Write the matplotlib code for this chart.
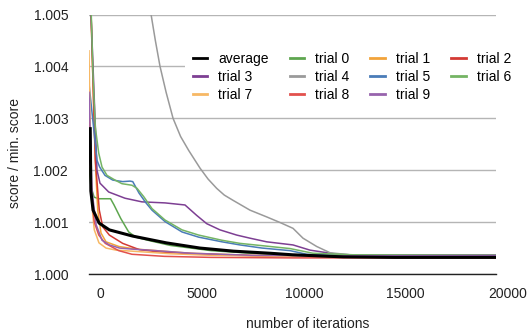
import matplotlib
matplotlib.use("Agg")
import matplotlib.pyplot as plt
import matplotlib.transforms as mtransforms

plt.rcParams['font.family'] = ['Liberation Sans', 'DejaVu Sans']

# iterations / score values
avg_x = [60, 90, 200, 500, 1000, 2150, 3800, 5450, 7100, 8900, 10000, 12500, 15000, 20000]
avg_y = [1.0028, 1.0016, 1.00123, 1.00098, 1.00085, 1.00073, 1.0006, 1.0005, 1.00044, 1.0004, 1.00037, 1.00033, 1.00032, 1.00032]

t0_x = [0, 100, 250, 500, 1060, 1230, 1560, 1950, 2300, 3000, 4000, 6000, 8000, 10000, 12000, 20000]
t0_y = [1.00204, 1.00168, 1.00148, 1.00145, 1.00145, 1.00133, 1.00107, 1.00081, 1.00071, 1.00064, 1.00055, 1.00045, 1.0004, 1.00036, 1.00034, 1.00034]

t1_x = [0, 250, 330, 430, 590, 835, 1470, 2300, 3300, 5000, 8000, 12000, 20000]
t1_y = [1.0065, 1.0029, 1.0020, 1.00123, 1.00079, 1.00062, 1.00053, 1.00048, 1.00045, 1.0004, 1.00036, 1.00034, 1.00033]

t2_x = [0, 100, 310, 450, 506, 673, 1000, 1656, 2470, 3300, 4570, 6535, 9000, 12000, 20000]
t2_y = [1.0075, 1.005, 1.0022, 1.0015, 1.00123, 1.00091, 1.00075, 1.00059, 1.00047, 1.00043, 1.0004, 1.00037, 1.00034, 1.00033, 1.00033]

t3_x = [0, 100, 393, 540, 968, 1770, 2600, 3735, 4717, 5290, 5784, 6437, 7258, 7912, 8732, 10025, 10860, 12186, 12826, 20000]
t3_y = [1.0075, 1.005, 1.0020, 1.00175, 1.00158, 1.00146, 1.00139, 1.00137, 1.00133, 1.00113, 1.00097, 1.00085, 1.00075, 1.00069, 1.00062, 1.00056, 1.00046, 1.00038, 1.00037, 1.00037]

t4_x = [0, 1000, 2000, 2500, 2800, 3050, 3260, 3490, 3790, 4130, 4500, 4900, 5455, 5850, 6275, 6650, 7076, 7912, 8732, 9400, 10025, 10516, 11189, 11843, 12826, 20000]
t4_y = [1.02, 1.014, 1.009, 1.0068, 1.0059, 1.005, 1.0045, 1.004, 1.0035, 1.003, 1.00265, 1.00238, 1.00204, 1.00183, 1.00165, 1.00152, 1.00142, 1.00123, 1.0011, 1.00099, 1.00088, 1.00069, 1.00053, 1.00041, 1.00037, 1.00036]

t5_x = [0, 393, 525, 786, 1165, 1656, 2015, 2150, 2457, 2800, 3096, 3735, 4570, 5390, 6535, 7420, 8500, 9880, 10700, 12000, 20000]
t5_y = [1.00367, 1.00219, 1.00206, 1.0019, 1.00181, 1.00178, 1.00179, 1.00178, 1.00156, 1.00137, 1.00123, 1.00101, 1.00081, 1.00071, 1.00062, 1.00056, 1.0005, 1.00045, 1.00038, 1.00036, 1.00035]

t6_x = [0, 200, 310, 477, 640, 885, 1277, 1620, 2113, 2360, 2690, 3096, 3735, 4570, 5390, 6535, 7420, 9880, 11000, 13000, 20000]
t6_y = [1.0065, 1.0038, 1.00283, 1.00233, 1.00206, 1.0019, 1.00181, 1.00174, 1.00171, 1.00165, 1.00149, 1.00126, 1.00104, 1.00085, 1.00075, 1.00065, 1.00059, 1.00049, 1.0004, 1.00037, 1.00037]

t7_x = [0, 100, 180, 260, 490, 835, 1330, 2500, 4000, 6000, 10000, 14000, 20000]
t7_y = [1.0043, 1.0018, 1.00117, 1.00085, 1.0006, 1.0005, 1.00046, 1.00043, 1.00039, 1.00036, 1.00034, 1.00033, 1.00033]

t8_x = [0, 100, 260, 480, 800, 1460, 2110, 3700, 6000, 10000, 15000, 20000]
t8_y = [1.0030, 1.0016, 1.0010, 1.00075, 1.00059, 1.00045, 1.00038, 1.00034, 1.00032, 1.00031, 1.00031, 1.00031]

t9_x = [0, 150, 350, 640, 1000, 1500, 2100, 2950, 5000, 8000, 12000, 20000]
t9_y = [1.0035, 1.0016, 1.00095, 1.00065, 1.00056, 1.0005, 1.00048, 1.00046, 1.0004, 1.00036, 1.00035, 1.00036]

trials = [
    ('trial 0', t0_x, t0_y, '#5ea64f'),
    ('trial 1', t1_x, t1_y, '#f2a33a'),
    ('trial 2', t2_x, t2_y, '#d43a34'),
    ('trial 3', t3_x, t3_y, '#7d3f93'),
    ('trial 4', t4_x, t4_y, '#9a9a9a'),
    ('trial 5', t5_x, t5_y, '#4a7cb8'),
    ('trial 6', t6_x, t6_y, '#74b464'),
    ('trial 7', t7_x, t7_y, '#f7b865'),
    ('trial 8', t8_x, t8_y, '#e2514d'),
    ('trial 9', t9_x, t9_y, '#9763ad'),
]

fig = plt.figure(figsize=(5.31, 3.32), dpi=100)
ax = fig.add_axes([89 / 531, 1 - 274 / 332, 407 / 531, 259.5 / 332])

handles = {}
for name, xs, ys, col in trials:
    handles[name], = ax.plot(xs, ys, color=col, lw=1.1, label=name)
handles['average'], = ax.plot(avg_x, avg_y, color='black', lw=2.2, label='average')

ax.set_xlim(0, 20000)
ax.set_ylim(1.0, 1.005)
ax.set_xticks([0, 5000, 10000, 15000, 20000])
ax.set_yticks([1.000, 1.001, 1.002, 1.003, 1.004, 1.005])
ax.set_yticklabels(['%.3f' % v for v in ax.get_yticks()])

ax.grid(axis='y', color='#b5b5b5', lw=1.0)
ax.set_axisbelow(True)
for s in ['top', 'right', 'left']:
    ax.spines[s].set_visible(False)
ax.spines['bottom'].set_color('#222222')
ax.spines['bottom'].set_linewidth(1.0)
ax.spines['bottom'].set_zorder(5)
ax.tick_params(length=0, labelsize=10, colors='#222222')
ax.tick_params(axis='y', pad=15)
ax.tick_params(axis='x', pad=9)

# x labels sit a little right of their ticks in the original
offset = mtransforms.ScaledTranslation(11.5 / 100, 0, fig.dpi_scale_trans)
for lab in ax.get_xticklabels():
    lab.set_transform(lab.get_transform() + offset)

ax.set_xlabel('number of iterations', fontsize=10, color='#222222')
ax.xaxis.set_label_coords(0.537, -0.165)
ax.set_ylabel('score / min. score', fontsize=10, color='#222222')
ax.yaxis.set_label_coords(-0.165, 0.466)

order = ['average', 'trial 3', 'trial 7', 'trial 0', 'trial 4', 'trial 8',
         'trial 1', 'trial 5', 'trial 9', 'trial 2', 'trial 6']
leg = ax.legend([handles[n] for n in order], order, ncol=4, fontsize=10,
                loc='upper left', bbox_to_anchor=(185 / 531, 1 - 44 / 332),
                bbox_transform=fig.transFigure, borderaxespad=0,
                frameon=True, facecolor='white', edgecolor='none', framealpha=1,
                handlelength=1.05, handletextpad=0.8, columnspacing=1.5,
                labelspacing=0.3, borderpad=0.55)
for line in leg.get_lines():
    line.set_linewidth(2.0)

fig.savefig('out.png', dpi=100)
